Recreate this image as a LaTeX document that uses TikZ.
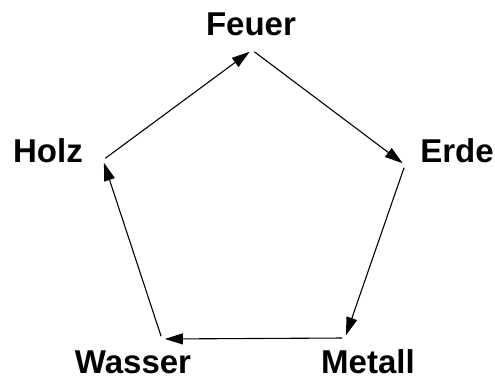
\documentclass[tikz,border=0pt]{standalone}
\usepackage{fontspec}
\setmainfont{Liberation Sans}
\usepackage{tikz}
\usetikzlibrary{arrows.meta,positioning}

\begin{document}
\begin{tikzpicture}[x=0.5pt, y=-0.5pt,
    element/.style={font=\fontsize{16.5pt}{18pt}\selectfont\bfseries, inner sep=0pt},
    corner/.style={circle, inner sep=0pt, minimum size=2.5pt},
    cycle arrow/.style={line width=0.55pt, -{Triangle[length=9pt,width=5.5pt]}}]
  \useasboundingbox (0,0) rectangle (495,381);

  % Corners of the pentagon (where the arrows meet)
  \node[corner] (feuer)  at (252,50)  {};
  \node[corner] (erde)   at (405,165) {};
  \node[corner] (metall) at (345,338) {};
  \node[corner] (wasser) at (162,339) {};
  \node[corner] (holz)   at (103,160) {};

  % Names of the elements
  \node[element] (feuerText)  at (251,24)  {Feuer};
  \node[element] (erdeText)   at (457,151) {Erde};
  \node[element] (metallText) at (368,362) {Metall};
  \node[element] (wasserText) at (133,362) {Wasser};
  \node[element] (holzText)   at (48,151)  {Holz};

  % The cycle
  \draw[cycle arrow] (holz) -- (feuer);
  \draw[cycle arrow] (feuer) -- (erde);
  \draw[cycle arrow] (erde) -- (metall);
  \draw[cycle arrow] (metall) -- (wasser);
  \draw[cycle arrow] (wasser) -- (holz);
\end{tikzpicture}
\end{document}
